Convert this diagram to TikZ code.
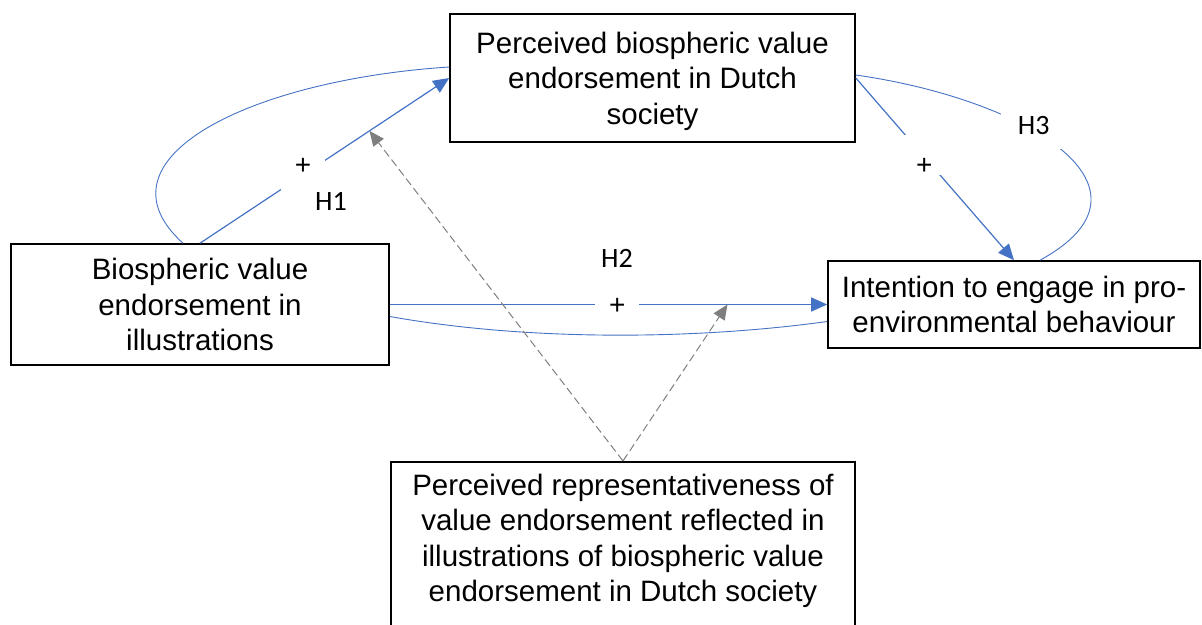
\documentclass[tikz,border=0pt]{standalone}
\usepackage{fontspec}
\setmainfont{Liberation Sans}
\newfontfamily\carlito{Carlito}
\usetikzlibrary{arrows.meta}
\definecolor{linkblue}{HTML}{4472C4}
\definecolor{modgray}{HTML}{7F7F7F}

\begin{document}
\begin{tikzpicture}[x=1pt, y=-1pt,
    box/.style={draw, line width=1.6pt, align=center, inner sep=0pt,
        font=\fontsize{29.5}{35.5}\selectfont},
    link/.style={linkblue, line width=1.2pt, -{Triangle[length=16pt,width=14pt]}},
    loop/.style={linkblue, line width=0.9pt},
    moder/.style={modgray, line width=1pt, dash pattern=on 8pt off 4pt,
        -{Triangle[length=15pt,width=13pt]}},
    sign/.style={fill=white, text=black, inner sep=0pt, minimum width=44pt, minimum height=40pt,
        font=\fontsize{28}{28}\selectfont},
    hyp/.style={text=black, inner sep=0pt, font=\carlito\fontsize{28}{28}\selectfont}]

        \useasboundingbox (0,0) rectangle (1202,624);
        \clip (0,0) rectangle (1202,624);

        % The four variables
        \node[box, minimum width=405, minimum height=128, text depth=-4pt] (society) at (652.5,78)
            {Perceived biospheric value\\endorsement in Dutch\\society};
        \node[box, minimum width=378, minimum height=121, text depth=-10pt] (illus) at (200,304.5)
            {Biospheric value\\endorsement in\\illustrations};
        \node[box, minimum width=372, minimum height=87, text depth=-6pt] (intent) at (1014,304.5)
            {Intention to engage in pro-\\environmental behaviour};
        \node[box, anchor=north, minimum width=464, inner ysep=12pt, text depth=30pt] (repr) at (623,461)
            {Perceived representativeness of\\value endorsement reflected in\\illustrations of biospheric value\\endorsement in Dutch society};

        % H1: illustrations -> society
        \draw[link] (illus.north)
            -- node[sign, pos=0.414, text height=20pt, text depth=20pt] {+}
               coordinate[pos=0.68] (m1) (society.west);
        \draw[loop] ([xshift=-17pt]illus.north) .. controls +(-93,-84) and +(-200,13) .. ([yshift=11pt]society.west);
        \node[hyp] (h1) at (331,201) {H1};

        % H2: illustrations -> intention
        \draw[link] (illus.east)
            -- node[sign, pos=0.511, xshift=4pt, text height=20pt, text depth=0pt] {+}
               coordinate[pos=0.772] (m2) (intent.west);
        \draw[loop] ([yshift=-12pt]illus.east) .. controls +(140,25) and +(-130,18) .. ([yshift=-17pt]intent.west);
        \node[hyp] (h2) at (617,258) {H2};

        % H3: society -> intention
        \draw[link] (society.east)
            -- node[sign, pos=0.42, xshift=2pt, text height=40pt, text depth=0pt] {+} (intent.north);
        \draw[loop] ([yshift=3pt]society.east) .. controls +(175,25) and +(130,-71) .. ([xshift=26pt]intent.north)
            node[hyp, pos=0.4, yshift=5pt, fill=white, minimum width=66pt, minimum height=46pt] (h3) {H3};

        % Moderator
        \draw[moder] (repr.north) -- (m1);
        \draw[moder] (repr.north) -- (m2);
    \end{tikzpicture}
\end{document}
